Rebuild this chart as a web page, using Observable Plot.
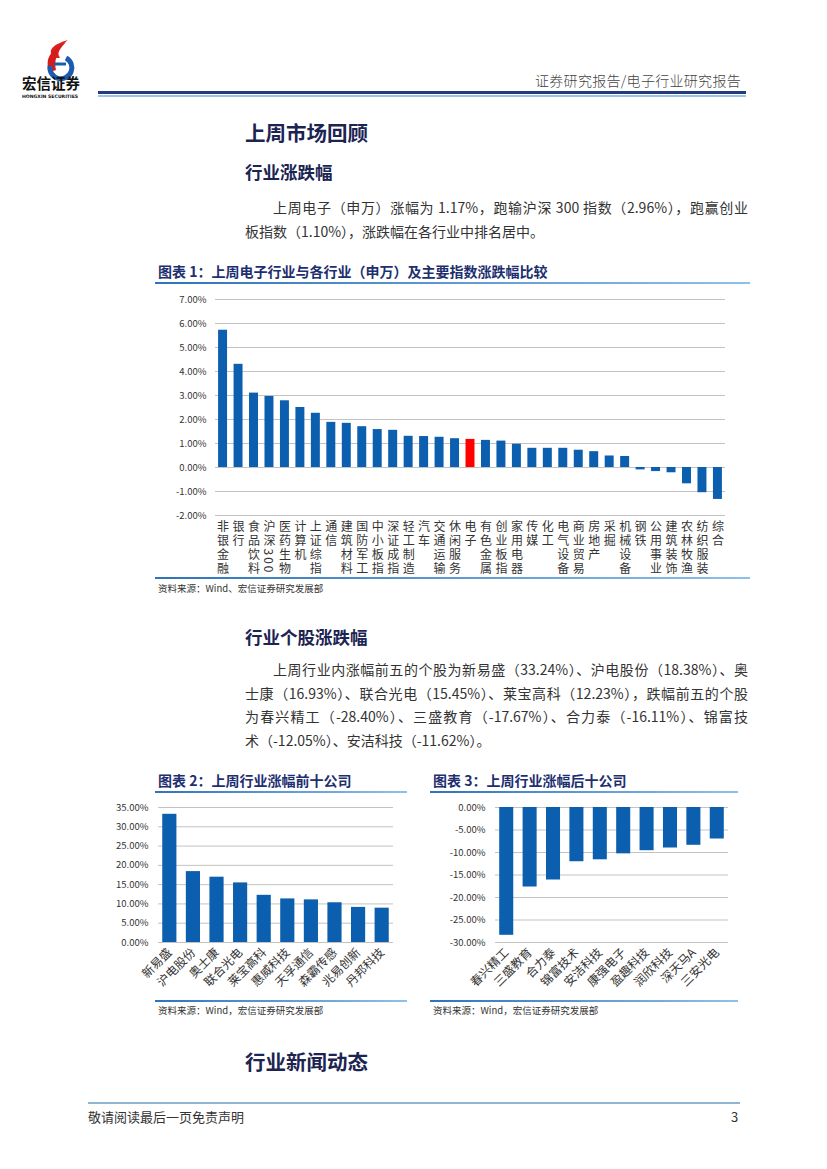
<!DOCTYPE html>
<html>
<head>
<meta charset="utf-8">
<script src="https://cdn.jsdelivr.net/npm/d3@7"></script>
<script src="https://cdn.jsdelivr.net/npm/@observablehq/plot@0.6"></script>
<style>
  html, body { margin: 0; padding: 0; background: #fff; }
  body { width: 827px; height: 1169px; position: relative; overflow: hidden;
         font-family: "Noto Sans CJK SC", "Noto Sans", sans-serif; color: #333; }
  .abs { position: absolute; }
  .h1 { font-size: 20.5px; font-weight: 700; color: #1c2452; left: 245px; line-height: 1; }
  .h2 { font-size: 17.5px; font-weight: 700; color: #1c2452; left: 245px; line-height: 1; }
  .para { left: 245px; width: 503px; font-size: 14px; color: #333; }
  .para div { text-align: justify; text-align-last: justify; height: 23.7px; line-height: 23.7px; white-space: nowrap; }
  .para div.last { text-align-last: left; }
  .para div.ind { padding-left: 28px; }
  .ctitle { font-size: 14px; font-weight: 700; color: #1d2f6f; line-height: 1; white-space: nowrap; }
  .uline { height: 2px; background: linear-gradient(to right, #2e73bd, #8ec0ea); }
  .src { font-size: 9.5px; color: #333; line-height: 1; white-space: nowrap; }
</style>
</head>
<body>
<script>
// ---------- data ----------
const industries = ["非银金融","银行","食品饮料","沪深300","医药生物","计算机","上证综指","通信","建筑材料","国防军工","中小板指","深证成指","轻工制造","汽车","交通运输","休闲服务","电子","有色金属","创业板指","家用电器","传媒","化工","电气设备","商业贸易","房地产","采掘","机械设备","钢铁","公用事业","建筑装饰","农林牧渔","纺织服装","综合"];
const industryChange = [5.72,4.30,3.10,2.96,2.78,2.50,2.26,1.88,1.84,1.70,1.58,1.55,1.30,1.29,1.26,1.20,1.17,1.13,1.10,0.97,0.80,0.80,0.80,0.72,0.66,0.48,0.46,-0.10,-0.17,-0.22,-0.68,-1.05,-1.33];
const highlightIndustry = "电子";
const yTicks1 = [-2,-1,0,1,2,3,4,5,6,7];

const topStocks = ["新易盛","沪电股份","奥士康","联合光电","莱宝高科","惠威科技","天孚通信","森霸传感","兆易创新","丹邦科技"];
const topChange = [33.24,18.38,16.93,15.45,12.23,11.30,11.05,10.30,9.10,8.90];
const yTicks2 = [0,5,10,15,20,25,30,35];

const bottomStocks = ["春兴精工","三盛教育","合力泰","锦富技术","安洁科技","康强电子","盈趣科技","润欣科技","深天马A","三安光电"];
const bottomChange = [-28.40,-17.67,-16.11,-12.05,-11.62,-10.30,-9.60,-9.00,-8.40,-7.00];
const yTicks3 = [-30,-25,-20,-15,-10,-5,0];

const BLUE = "#0b5fae", RED = "#ff0000", GRID = "#c3c3c3";
const pct = d => d.toFixed(2) + "%";
const fontStyle = {fontFamily: "'Noto Sans CJK SC', 'Noto Sans', sans-serif", fontSize: "9.5px", color: "#333", background: "transparent", overflow: "visible"};

function place(el, left, top) {
  el.style.position = "absolute"; el.style.left = left + "px"; el.style.top = top + "px";
  document.body.appendChild(el);
}

// ---------- chart 1 ----------
const data1 = industries.map((name, i) => ({name, v: industryChange[i]}));
const chart1 = Plot.plot({
  width: 600, height: 292,
  marginTop: 14, marginBottom: 62, marginLeft: 65, marginRight: 25,
  style: fontStyle,
  x: {domain: industries, paddingInner: 0.42, paddingOuter: 0.2, round: false},
  y: {domain: [-2, 7]},
  color: {type: "identity"},
  marks: [
    Plot.gridY({ticks: yTicks1, stroke: GRID, strokeOpacity: 1}),
    Plot.axisY({ticks: yTicks1, tickFormat: pct, tickSize: 0, tickPadding: 9, label: null, fontSize: 9.5}),
    Plot.barY(data1, {x: "name", y: "v", fill: d => d.name === highlightIndustry ? RED : BLUE}),
    Plot.axisX({tickSize: 0, tickPadding: 5, label: null, fontSize: 12})
  ]
});
chart1.querySelectorAll('g[aria-label="x-axis tick label"] text').forEach(t => {
  t.style.writingMode = "vertical-rl";
  t.setAttribute("text-anchor", "start");
  t.setAttribute("y", "0");
  t.style.letterSpacing = "2px";
});
place(chart1, 150, 285);

// ---------- chart 2 ----------
const data2 = topStocks.map((name, i) => ({name, v: topChange[i]}));
const chart2 = Plot.plot({
  width: 310, height: 205,
  marginTop: 12, marginBottom: 58, marginLeft: 63, marginRight: 12,
  style: fontStyle,
  x: {domain: topStocks, paddingInner: 0.4, paddingOuter: 0.18, round: false},
  y: {domain: [0, 35]},
  marks: [
    Plot.gridY({ticks: yTicks2, stroke: GRID, strokeOpacity: 1}),
    Plot.axisY({ticks: yTicks2, tickFormat: pct, tickSize: 0, tickPadding: 10, label: null, fontSize: 9.5}),
    Plot.barY(data2, {x: "name", y: "v", fill: BLUE}),
    Plot.axisX({tickSize: 0, tickPadding: 8, tickRotate: -45, label: null, fontSize: 12})
  ]
});
place(chart2, 95, 795);

// ---------- chart 3 ----------
const data3 = bottomStocks.map((name, i) => ({name, v: bottomChange[i]}));
const chart3 = Plot.plot({
  width: 315, height: 205,
  marginTop: 12, marginBottom: 58, marginLeft: 70, marginRight: 12,
  style: fontStyle,
  x: {domain: bottomStocks, paddingInner: 0.4, paddingOuter: 0.18, round: false},
  y: {domain: [-30, 0]},
  marks: [
    Plot.gridY({ticks: yTicks3, stroke: GRID, strokeOpacity: 1}),
    Plot.axisY({ticks: yTicks3, tickFormat: pct, tickSize: 0, tickPadding: 10, label: null, fontSize: 9.5}),
    Plot.barY(data3, {x: "name", y1: 0, y2: "v", fill: BLUE}),
    Plot.axisX({tickSize: 0, tickPadding: 8, tickRotate: -45, label: null, fontSize: 12})
  ]
});
place(chart3, 425, 795);
</script>

<!-- header -->
<svg class="abs" style="left:20px;top:36px" width="80" height="66" viewBox="0 0 80 66">
  <path d="M34 22 C26 14 34 8 48 4 C40 10 36 16 40 22 Z" fill="#e02020"/>
  <path d="M30 36 C24 24 30 14 46 6 C36 16 34 26 36 34 Z" fill="#d41c1c"/>
  <path d="M46 22 A11 11 0 1 1 30 30" fill="none" stroke="#1d5bb0" stroke-width="5"/>
  <path d="M34 28 L46 28" stroke="#1d5bb0" stroke-width="3"/>
  <text x="2" y="53" font-size="14.5" font-weight="700" fill="#111" font-family="Noto Sans CJK SC">宏信证券</text>
  <text x="2" y="62" font-size="4.6" font-weight="700" fill="#111" font-family="DejaVu Sans">HONGXIN SECURITIES</text>
</svg>
<div class="abs" style="left:535px;top:73px;font-size:14px;color:#444;font-weight:300;letter-spacing:0.3px;white-space:nowrap;line-height:1">证券研究报告/电子行业研究报告</div>
<div class="abs" style="left:98px;top:91px;width:648px;height:3px;background:#233c80"></div>
<div class="abs" style="left:98px;top:95px;width:648px;height:1.5px;background:#9cc3e6"></div>

<!-- section 1 -->
<div class="abs h1" style="top:122px">上周市场回顾</div>
<div class="abs h2" style="top:163px">行业涨跌幅</div>
<div class="abs para" style="top:196px">
  <div class="ind">上周电子（申万）涨幅为 1.17%，跑输沪深 300 指数（2.96%），跑赢创业</div>
  <div class="last">板指数（1.10%），涨跌幅在各行业中排名居中。</div>
</div>

<div class="abs ctitle" style="left:158px;top:264px">图表 1：上周电子行业与各行业（申万）及主要指数涨跌幅比较</div>
<div class="abs uline" style="left:155px;top:282px;width:595px"></div>
<div class="abs uline" style="left:155px;top:577px;width:595px"></div>
<div class="abs src" style="left:158px;top:584px">资料来源：Wind、宏信证券研究发展部</div>

<!-- section 2 -->
<div class="abs h2" style="top:628px">行业个股涨跌幅</div>
<div class="abs para" style="top:658px">
  <div class="ind">上周行业内涨幅前五的个股为新易盛（33.24%）、沪电股份（18.38%）、奥</div>
  <div>士康（16.93%）、联合光电（15.45%）、莱宝高科（12.23%），跌幅前五的个股</div>
  <div>为春兴精工（-28.40%）、三盛教育（-17.67%）、合力泰（-16.11%）、锦富技</div>
  <div class="last">术（-12.05%）、安洁科技（-11.62%）。</div>
</div>

<div class="abs ctitle" style="left:158px;top:773px">图表 2：上周行业涨幅前十公司</div>
<div class="abs uline" style="left:155px;top:791px;width:252px"></div>
<div class="abs ctitle" style="left:433px;top:773px">图表 3：上周行业涨幅后十公司</div>
<div class="abs uline" style="left:430px;top:791px;width:308px"></div>
<div class="abs uline" style="left:155px;top:1000px;width:252px"></div>
<div class="abs uline" style="left:430px;top:1000px;width:308px"></div>
<div class="abs src" style="left:158px;top:1006px">资料来源：Wind，宏信证券研究发展部</div>
<div class="abs src" style="left:433px;top:1006px">资料来源：Wind，宏信证券研究发展部</div>

<div class="abs h1" style="top:1051px">行业新闻动态</div>

<!-- footer -->
<div class="abs" style="left:88px;top:1102px;width:652px;height:1.5px;background:#8fb4d4"></div>
<div class="abs" style="left:88px;top:1110px;font-size:13px;color:#333;line-height:1;white-space:nowrap">敬请阅读最后一页免责声明</div>
<div class="abs" style="left:731px;top:1110px;font-size:13px;color:#333;line-height:1">3</div>
</body>
</html>
